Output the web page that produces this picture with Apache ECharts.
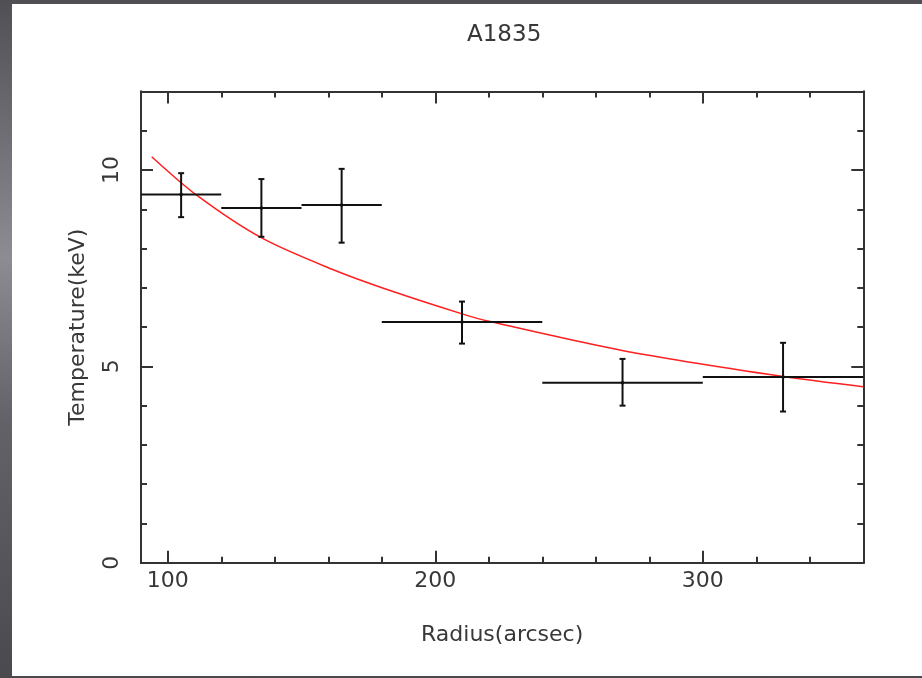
<!DOCTYPE html>
<html>
<head>
<meta charset="utf-8">
<script src="https://cdn.jsdelivr.net/npm/echarts@6/dist/echarts.min.js"></script>
<style>
  html, body { margin: 0; padding: 0; width: 922px; height: 678px; overflow: hidden; }
  body { background: linear-gradient(180deg, #505054 0%, #6e6e74 20%, #8c8c92 38%, #626268 62%, #4a4a4e 100%); position: relative; }
  #chart { position: absolute; left: 12px; top: 4px; width: 910px; height: 672px; background: #ffffff; }
</style>
</head>
<body>
<div id="chart"></div>
<script>
// ---- data ----
const titleText = 'A1835';
const xAxisName = 'Radius(arcsec)';
const yAxisName = 'Temperature(keV)';

// measured temperature profile (bins)
const radius   = [105, 135, 165, 210, 270, 330];
const radiusLo = [90, 120, 150, 180, 240, 300];
const radiusHi = [120, 150, 180, 240, 300, 360];
const temp     = [9.38, 9.03, 9.11, 6.13, 4.58, 4.73];
const tempLo   = [8.80, 8.30, 8.15, 5.58, 4.00, 3.85];
const tempHi   = [9.92, 9.77, 10.03, 6.65, 5.19, 5.60];

// red model curve
const modelR = [94.0, 110.8, 135.1, 161.9, 183.1, 210.3, 220.5, 270.3, 330.1, 360];
const modelT = [10.34, 9.36, 8.27, 7.46, 6.93, 6.33, 6.14, 5.40, 4.74, 4.48];

// axis ranges and ticks
const xMin = 90, xMax = 360;
const yMin = 0, yMax = 12;
const xMajorTicks = [100, 200, 300];
const xMinorTicks = [100, 120, 140, 160, 180, 200, 220, 240, 260, 280, 300, 320, 340, 360];
const yMajorTicks = [0, 5, 10];
const yMinorTicks = [0, 1, 2, 3, 4, 5, 6, 7, 8, 9, 10, 11, 12];

// ---- chart ----
const FONT = 'DejaVu Sans';
const TXT = '#383838';
const AX = '#333333';

const chart = echarts.init(document.getElementById('chart'), null, { renderer: 'canvas' });

function xAx(position, ticks, len, labels) {
  return {
    type: 'value', position: position, min: xMin, max: xMax,
    axisLine: { show: true, onZero: false, lineStyle: { color: AX, width: 2 } },
    axisTick: { show: true, inside: true, length: len, customValues: ticks, lineStyle: { color: AX, width: 2 } },
    axisLabel: labels ? { show: true, customValues: xMajorTicks, margin: 8, fontFamily: FONT, fontSize: 22, color: TXT } : { show: false },
    splitLine: { show: false },
    name: labels ? xAxisName : '',
    nameLocation: 'middle', nameGap: 62,
    nameTextStyle: { fontFamily: FONT, fontSize: 22, color: TXT }
  };
}
function yAx(position, ticks, len, labels) {
  return {
    type: 'value', position: position, min: yMin, max: yMax,
    axisLine: { show: true, onZero: false, lineStyle: { color: AX, width: 2 } },
    axisTick: { show: true, inside: true, length: len, customValues: ticks, lineStyle: { color: AX, width: 2 } },
    axisLabel: labels ? { show: true, customValues: yMajorTicks, rotate: 90, margin: 18, fontFamily: FONT, fontSize: 22, color: TXT } : { show: false },
    splitLine: { show: false },
    name: labels ? yAxisName : '',
    nameLocation: 'middle', nameGap: 52, nameRotate: 90,
    nameTextStyle: { fontFamily: FONT, fontSize: 22, color: TXT }
  };
}

const errData = radius.map((r, i) => [r, temp[i], radiusLo[i], radiusHi[i], tempLo[i], tempHi[i]]);
const modelData = modelR.map((r, i) => [r, modelT[i]]);

function renderErr(params, api) {
  const x = api.value(0), y = api.value(1);
  const c = api.coord([x, y]);
  const l = api.coord([api.value(2), y]);
  const h = api.coord([api.value(3), y]);
  const b = api.coord([x, api.value(4)]);
  const t = api.coord([x, api.value(5)]);
  const st = { stroke: '#111111', lineWidth: 2 };
  const cap = 3;
  return {
    type: 'group',
    children: [
      { type: 'line', shape: { x1: l[0], y1: l[1], x2: h[0], y2: h[1] }, style: st },
      { type: 'line', shape: { x1: b[0], y1: b[1], x2: t[0], y2: t[1] }, style: st },
      { type: 'line', shape: { x1: b[0] - cap, y1: b[1], x2: b[0] + cap, y2: b[1] }, style: st },
      { type: 'line', shape: { x1: t[0] - cap, y1: t[1], x2: t[0] + cap, y2: t[1] }, style: st },
      { type: 'circle', shape: { cx: c[0], cy: c[1], r: 1.8 }, style: { fill: '#111111' } }
    ]
  };
}

chart.setOption({
  animation: false,
  backgroundColor: '#ffffff',
  title: {
    text: titleText, left: 450, top: 15,
    textStyle: { fontFamily: FONT, fontSize: 23, fontWeight: 'normal', color: TXT }
  },
  grid: { left: 129, right: 58.7, top: 87.5, bottom: 113.3, containLabel: false },
  xAxis: [
    xAx('bottom', xMajorTicks, 12, true),
    xAx('bottom', xMinorTicks, 6, false),
    xAx('top', xMajorTicks, 12, false),
    xAx('top', xMinorTicks, 6, false)
  ],
  yAxis: [
    yAx('left', yMajorTicks, 12, true),
    yAx('left', yMinorTicks, 6, false),
    yAx('right', yMajorTicks, 12, false),
    yAx('right', yMinorTicks, 6, false)
  ],
  series: [
    {
      type: 'line', data: modelData, xAxisIndex: 0, yAxisIndex: 0,
      smooth: 0.3, showSymbol: false, symbol: 'none',
      lineStyle: { color: '#ff2020', width: 1.5 }, z: 3
    },
    {
      type: 'custom', data: errData, xAxisIndex: 0, yAxisIndex: 0,
      renderItem: renderErr, encode: { x: [0, 2, 3], y: [1, 4, 5] }, z: 4
    }
  ]
});
</script>
</body>
</html>
